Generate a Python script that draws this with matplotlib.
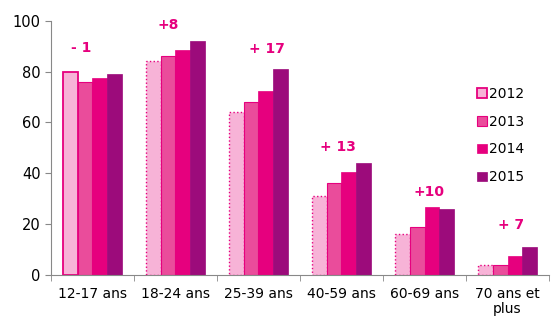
import matplotlib
matplotlib.use("Agg")
import matplotlib.pyplot as plt
import numpy as np

# data
groups = ["12-17 ans", "18-24 ans", "25-39 ans", "40-59 ans", "60-69 ans", "70 ans et\nplus"]
years = ["2012", "2013", "2014", "2015"]
v2012 = [80, 84, 64, 31, 16, 4]
v2013 = [76, 86, 68, 36, 19, 4]
v2014 = [77.5, 88.5, 72.5, 40.5, 26.5, 7.5]
v2015 = [79, 92, 81, 44, 26, 11]
deltas = ["- 1", "+8", "+ 17", "+ 13", "+10", "+ 7"]
delta_x = [-0.14, -0.09, 0.1, -0.04, 0.05, 0.04]
delta_y = [89.5, 98.5, 89, 50.5, 32.5, 19.5]

pink = "#E6007E"
fills = ["#F7B3D7", "#EA4C9B", "#E6007E", "#9C0B7B"]

fig = plt.figure(figsize=(5.54, 3.21), dpi=100)
ax = fig.add_axes([0.092, 0.144, 0.899, 0.791])

x = np.arange(len(groups))
w = 0.18
series = [v2012, v2013, v2014, v2015]
for i, vals in enumerate(series):
    pos = x + (i - 1.5) * w
    if i == 0:
        bars = ax.bar(pos, vals, w, color=fills[0], edgecolor=pink, linewidth=1.0,
                      linestyle=":", label=years[0])
        # first group has a solid outline
        bars[0].set_linestyle("-")
        bars[0].set_linewidth(1.3)
    elif i == 1:
        ax.bar(pos, vals, w, color=fills[1], edgecolor=pink, linewidth=0.8, label=years[1])
    else:
        ax.bar(pos, vals, w, color=fills[i], edgecolor=fills[i], linewidth=0.5, label=years[i])

for xi, dx, t, yy in zip(x, delta_x, deltas, delta_y):
    ax.text(xi + dx, yy, t, color=pink, fontsize=10, fontweight="bold", ha="center", va="center")

ax.set_xlim(-0.5, len(groups) - 0.5)
ax.set_ylim(0, 100)
ax.set_yticks([0, 20, 40, 60, 80, 100])
ax.set_xticks(x)
ax.set_xticklabels(groups, fontsize=10, linespacing=1.1)
ax.set_xticks(np.arange(len(groups) + 1) - 0.5, minor=True)
ax.tick_params(axis="x", which="major", length=0, pad=9)
ax.tick_params(axis="x", which="minor", length=4, color="#888888")
ax.tick_params(axis="y", length=4, color="#888888", labelsize=10.5)
for s in ["top", "right"]:
    ax.spines[s].set_visible(False)
for s in ["left", "bottom"]:
    ax.spines[s].set_color("#888888")

ax.legend(loc="upper left", bbox_to_anchor=(0.83, 0.79), frameon=False, fontsize=10,
          handlelength=0.7, handleheight=0.7, handletextpad=0.2, labelspacing=1.0)

fig.savefig("out.png", dpi=100)
